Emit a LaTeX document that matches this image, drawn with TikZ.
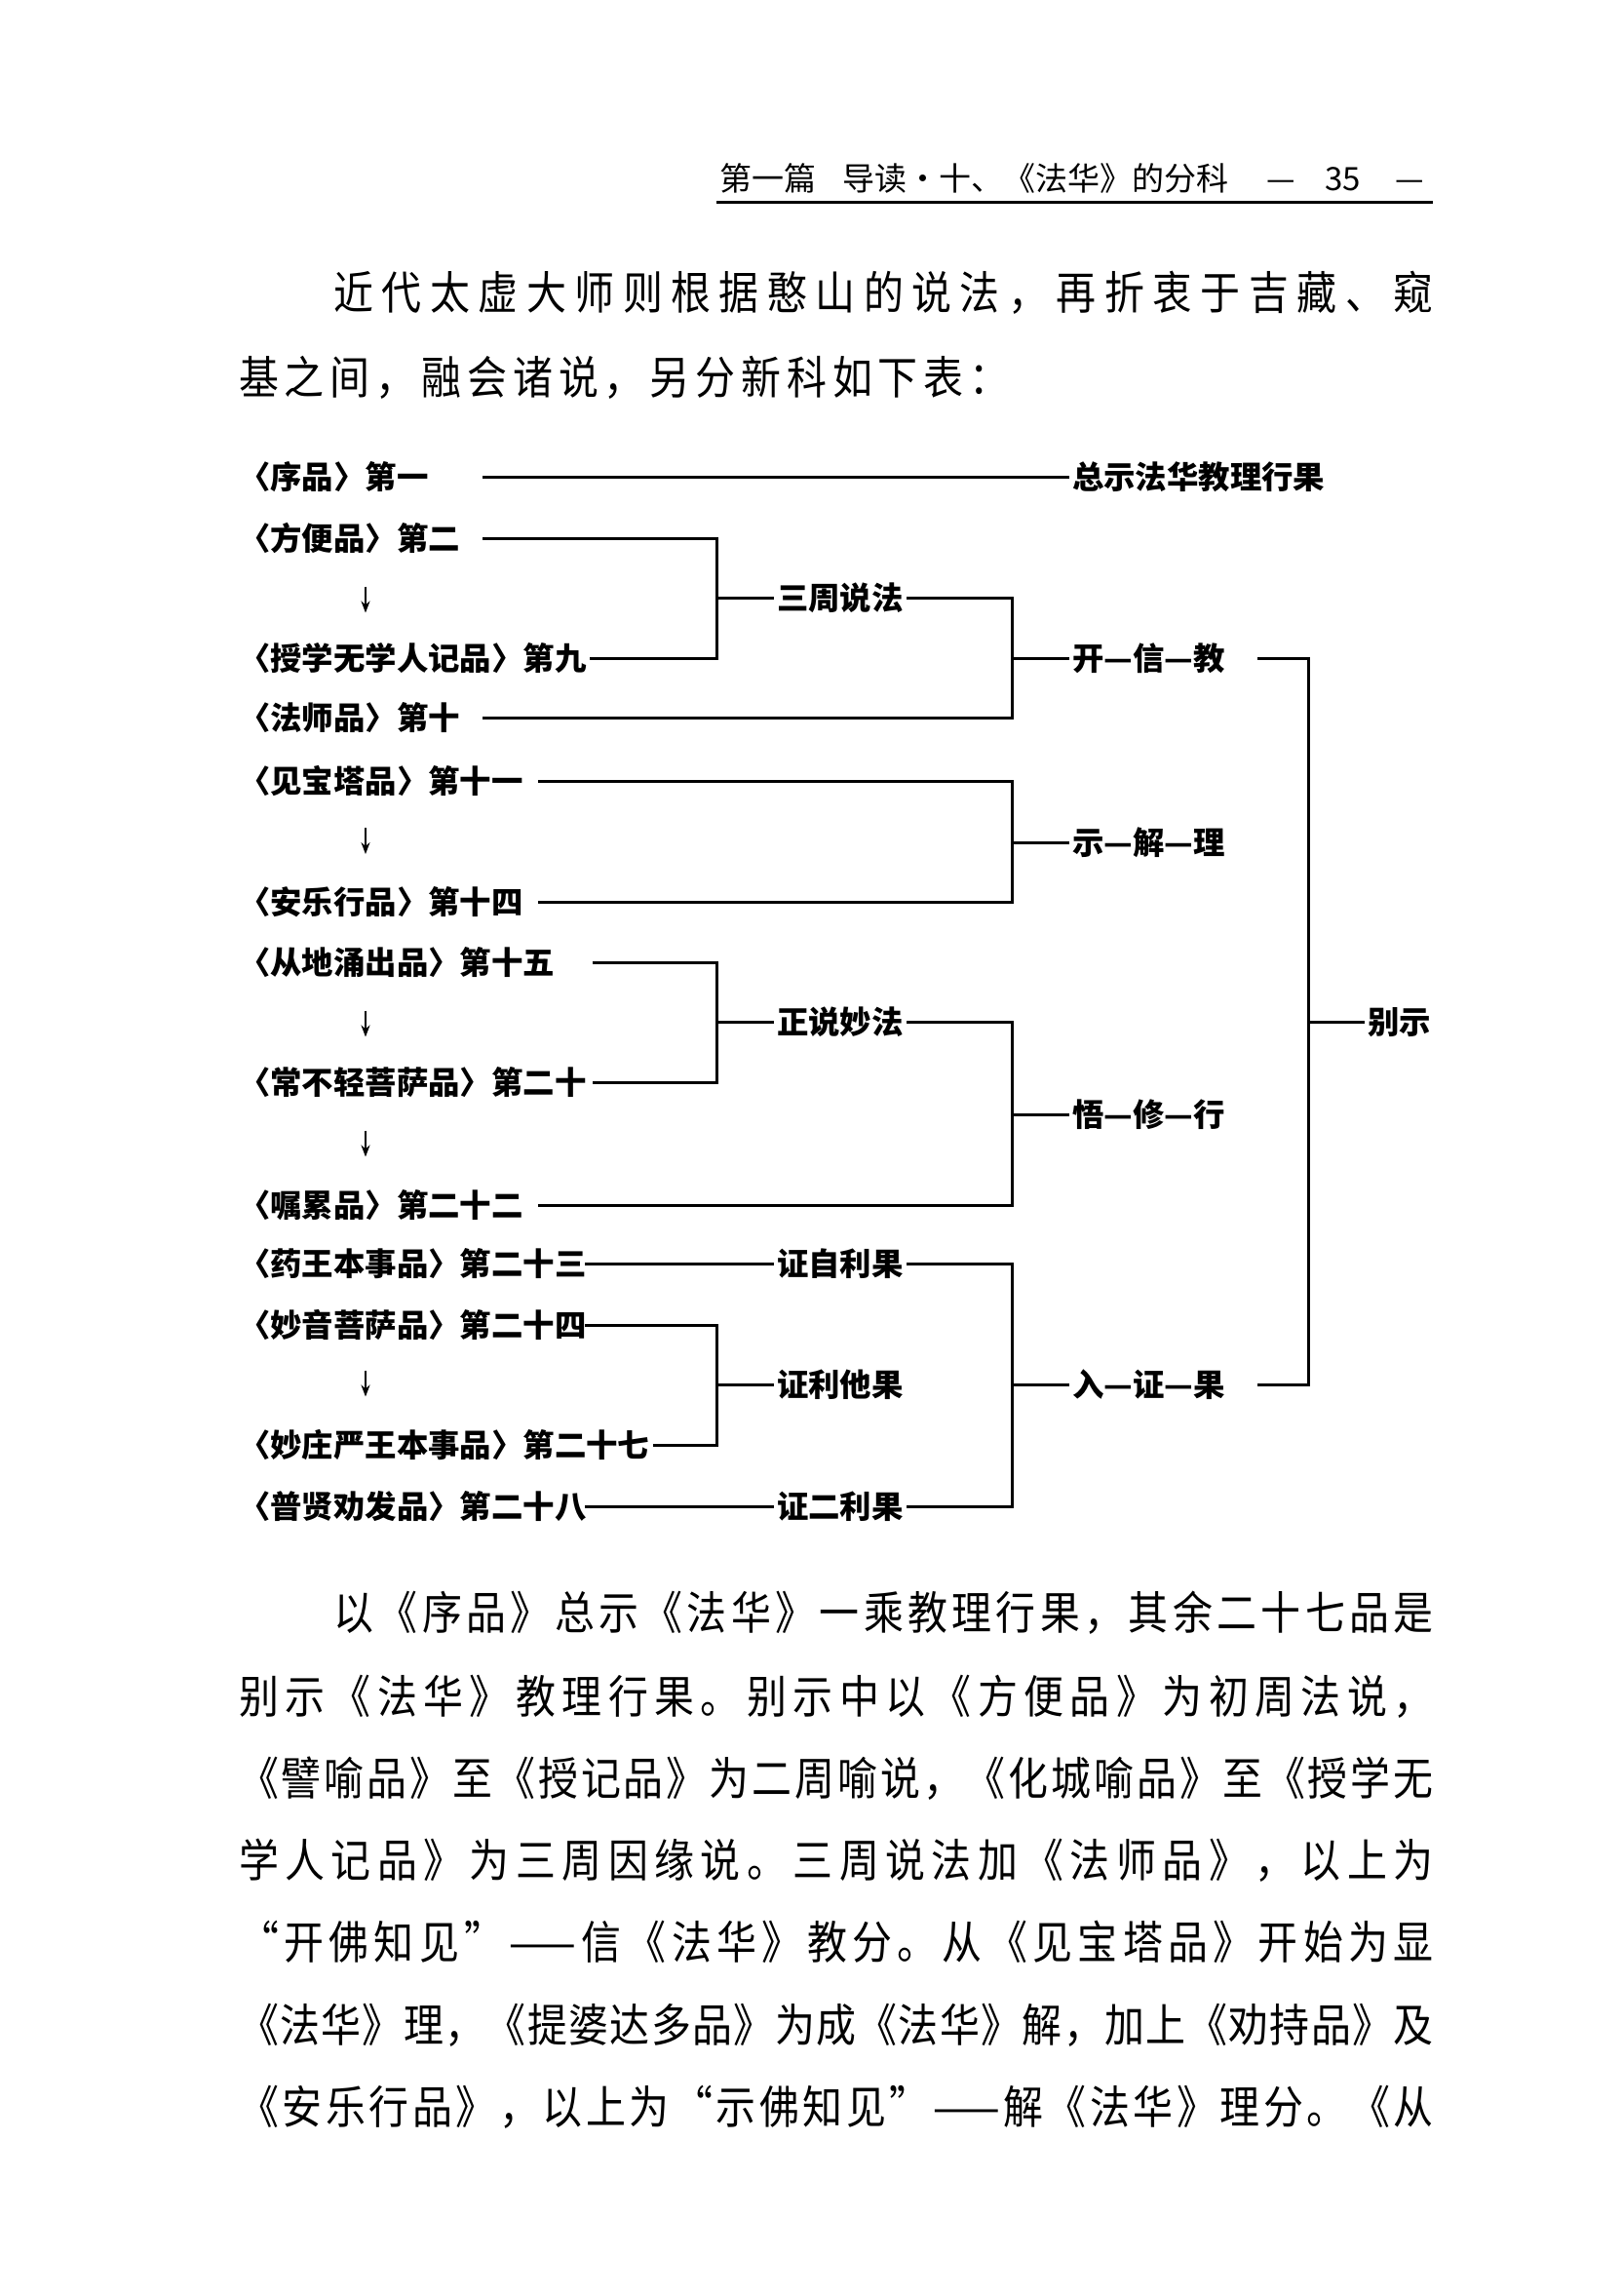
\documentclass[tikz,border=0pt]{standalone}
\usepackage{fontspec}
\newfontfamily\cjk{Noto Sans CJK SC}
\newfontfamily\cjkbody[FakeStretch=0.88]{Noto Sans CJK SC}
\usetikzlibrary{arrows.meta}
\ExplSyntaxOn
\NewDocumentCommand\spreadline{m m}
  {\makebox[#1][s]{\tl_map_inline:nn {#2} {##1\hfil}\unskip}}
\ExplSyntaxOff

\begin{document}
\begin{tikzpicture}[x=0.5pt, y=-0.5pt,
            chap/.style={anchor=west, inner sep=0pt, font=\cjk\bfseries\fontsize{10.8}{12}\selectfont},
            grp/.style={anchor=west, inner sep=1pt, font=\cjk\bfseries\fontsize{10.8}{12}\selectfont},
            txt/.style={anchor=west, inner sep=0pt, font=\cjkbody\fontsize{15.5}{18}\selectfont},
            link/.style={line width=1pt},
            dnarrow/.style={line width=0.6pt, -{Stealth[length=4pt, width=3pt]}}]
            \useasboundingbox (0, 0) rectangle (1109.33, 1570);

            \node[anchor=west, inner sep=0pt, font=\cjk\fontsize{11}{12}\selectfont] (hdr) at (492, 122)
                {第一篇\hspace{9pt}导读・十、《法华》的分科\hspace{13pt}—\hspace{10pt}35\hspace{12pt}—};
            \draw[line width=1pt] (490, 138) -- (980, 138);

            \node[txt] (p1) at (228, 200) {\spreadline{376pt}{近代太虚大师则根据憨山的说法，再折衷于吉藏、窥}};
            \node[txt] (p2) at (163, 258) {\spreadline{263.5pt}{基之间，融会诸说，另分新科如下表：}};

            \node[chap] (c1) at (163, 326) {〈序品〉第一};
            \node[chap] (c2) at (163, 368) {〈方便品〉第二};
            \node[chap] (c9) at (163, 450) {〈授学无学人记品〉第九};
            \node[chap] (c10) at (163, 491) {〈法师品〉第十};
            \node[chap] (c11) at (163, 534) {〈见宝塔品〉第十一};
            \node[chap] (c14) at (163, 617) {〈安乐行品〉第十四};
            \node[chap] (c15) at (163, 658) {〈从地涌出品〉第十五};
            \node[chap] (c20) at (163, 740) {〈常不轻菩萨品〉第二十};
            \node[chap] (c22) at (163, 824) {〈嘱累品〉第二十二};
            \node[chap] (c23) at (163, 864) {〈药王本事品〉第二十三};
            \node[chap] (c24) at (163, 906) {〈妙音菩萨品〉第二十四};
            \node[chap] (c27) at (163, 988) {〈妙庄严王本事品〉第二十七};
            \node[chap] (c28) at (163, 1030) {〈普贤劝发品〉第二十八};

            \foreach \y in {410, 575, 700, 782, 946}
                \draw[dnarrow] (250, \y-9) -- (250, \y+9);

            \node[grp] (zs) at (731, 326) {总示法华教理行果};
            \node[grp] (szsf) at (529, 409) {三周说法};
            \node[grp] (zsmf) at (529, 699) {正说妙法};
            \node[grp] (zzl) at (529, 864) {证自利果};
            \node[grp] (zlt) at (529, 947) {证利他果};
            \node[grp] (zel) at (529, 1030) {证二利果};
            \node[grp] (kxj) at (731, 450) {开—信—教};
            \node[grp] (sjl) at (731, 576) {示—解—理};
            \node[grp] (wxx) at (731, 762) {悟—修—行};
            \node[grp] (rzg) at (731, 947) {入—证—果};
            \node[grp] (bs) at (933, 699) {别示};

            \coordinate (s1) at (330, 326);
            \coordinate (s2) at (330, 368);
            \coordinate (s9) at ([xshift=1pt]c9.east);
            \coordinate (s10) at (330, 491);
            \coordinate (s11) at (368, 534);
            \coordinate (s14) at (368, 617);
            \coordinate (s15) at (405, 658);
            \coordinate (s20) at (405, 740);
            \coordinate (s22) at (368, 824);
            \coordinate (s23) at (400, 864);
            \coordinate (s24) at (400, 906);
            \coordinate (s27) at ([xshift=1pt]c27.east);
            \coordinate (s28) at (400, 1030);
            \coordinate (ba) at (490, 409);
            \coordinate (bb) at (490, 699);
            \coordinate (bc) at (490, 947);
            \coordinate (ka) at (692, 450);
            \coordinate (kb) at (692, 576);
            \coordinate (kc) at (692, 762);
            \coordinate (kd) at (692, 947);
            \coordinate (kr) at (860, 450);
            \coordinate (rr) at (860, 947);
            \coordinate (bm) at (895, 699);

            \draw[link] (s1) -- (zs.west);
            \draw[link] (s2) -| (ba) |- (s9);
            \draw[link] (ba) -- (szsf.west);
            \draw[link] (szsf.east) -| (ka) |- (s10);
            \draw[link] (ka) -- (kxj.west);
            \draw[link] (s11) -| (kb) |- (s14);
            \draw[link] (kb) -- (sjl.west);
            \draw[link] (s15) -| (bb) |- (s20);
            \draw[link] (bb) -- (zsmf.west);
            \draw[link] (zsmf.east) -| (kc) |- (s22);
            \draw[link] (kc) -- (wxx.west);
            \draw[link] (s23) -- (zzl.west);
            \draw[link] (s24) -| (bc) |- (s27);
            \draw[link] (bc) -- (zlt.west);
            \draw[link] (s28) -- (zel.west);
            \draw[link] (zzl.east) -| (kd) |- (zel.east);
            \draw[link] (kd) -- (rzg.west);
            \draw[link] (kr) -| (bm) |- (rr);
            \draw[link] (bm) -- (bs.west);

            \node[txt] (q1) at (228, 1103) {\spreadline{376pt}{以《序品》总示《法华》一乘教理行果，其余二十七品是}};
            \node[txt] (q2) at (163, 1160) {\spreadline{408.5pt}{别示《法华》教理行果。别示中以《方便品》为初周法说，}};
            \node[txt] (q3) at (163, 1216) {\spreadline{408.5pt}{《譬喻品》至《授记品》为二周喻说，《化城喻品》至《授学无}};
            \node[txt] (q4) at (163, 1272) {\spreadline{408.5pt}{学人记品》为三周因缘说。三周说法加《法师品》，以上为}};
            \node[txt] (q5) at (163, 1328) {\spreadline{408.5pt}{“开佛知见”{——}信《法华》教分。从《见宝塔品》开始为显}};
            \node[txt] (q6) at (163, 1385) {\spreadline{408.5pt}{《法华》理，《提婆达多品》为成《法华》解，加上《劝持品》及}};
            \node[txt] (q7) at (163, 1441) {\spreadline{408.5pt}{《安乐行品》，以上为“示佛知见”{——}解《法华》理分。《从}};
        \end{tikzpicture}
\end{document}
